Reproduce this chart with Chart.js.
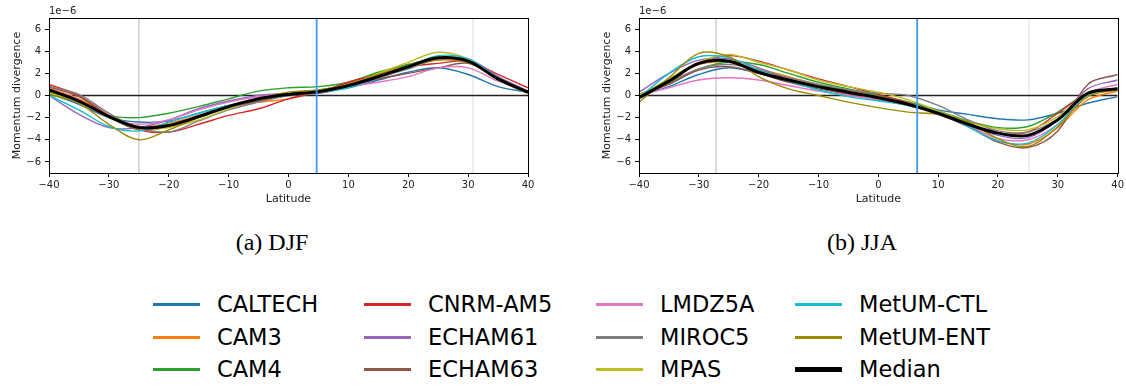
<!DOCTYPE html>
<html>
<head>
<meta charset="utf-8">
<script src="https://cdn.jsdelivr.net/npm/chart.js@4/dist/chart.umd.min.js"></script>
<style>
  body { margin: 0; background: #fff; width: 1126px; height: 388px; position: relative; overflow: hidden; font-family: "DejaVu Sans", sans-serif; }
  canvas { position: absolute; top: 0; }
  .cap { position: absolute; top: 229px; font-family: "Liberation Serif", "Times New Roman", serif; font-size: 24px; color: #000; transform: translateX(-50%); white-space: nowrap; }
  .leg { position: absolute; height: 30px; display: flex; align-items: center; font-size: 22.5px; color: #000; }
  .leg span.ln { display: inline-block; width: 47px; height: 3px; margin-right: 17px; }
</style>
</head>
<body>
<canvas id="djf" width="545" height="210" style="left:0"></canvas>
<canvas id="jja" width="536" height="210" style="left:590px"></canvas>
<div class="cap" style="left:272px">(a) DJF</div>
<div class="cap" style="left:862px">(b) JJA</div>
<div id="legend"></div>
<script>
// latitude grid, values in units of 1e-6
const LAT = [-40, -35, -30, -25, -20, -15, -10, -5, 0, 5, 10, 15, 20, 25, 30, 35, 40];
const MODELS = ['CALTECH', 'CAM3', 'CAM4', 'CNRM-AM5', 'ECHAM61', 'ECHAM63', 'LMDZ5A', 'MIROC5', 'MPAS', 'MetUM-CTL', 'MetUM-ENT', 'Median'];
const COLORS = ['#1f77b4', '#ff7f0e', '#2ca02c', '#d62728', '#9467bd', '#8c564b', '#e377c2', '#7f7f7f', '#bcbd22', '#17becf', '#9c8a00', '#000000'];
const X_TICKS = [-40, -30, -20, -10, 0, 10, 20, 30, 40];
const Y_TICKS = [-6, -4, -2, 0, 2, 4, 6];

// DJF
const djfCaltech = [0.2, -0.8, -2.0, -2.4, -2.3, -1.6, -0.9, -0.5, 0.0, 0.3, 0.7, 1.4, 2.1, 2.5, 1.9, 0.8, 0.3];
const djfCam3    = [0.7, -0.3, -1.8, -2.8, -2.5, -1.8, -1.0, -0.6, -0.3, 0.4, 1.1, 2.0, 2.8, 3.4, 3.2, 1.6, 0.3];
const djfCam4    = [0.3, -0.6, -1.8, -2.0, -1.6, -1.0, -0.3, 0.4, 0.7, 0.8, 1.2, 2.1, 2.8, 3.4, 3.1, 1.5, 0.3];
const djfCnrm    = [1.0, 0.0, -1.8, -3.1, -3.3, -2.6, -1.8, -1.2, -0.3, 0.3, 1.2, 1.9, 2.6, 2.9, 3.1, 1.9, 0.7];
const djfEcham61 = [0.0, -1.7, -2.9, -2.9, -2.2, -1.2, -0.5, 0.0, 0.2, 0.2, 0.8, 1.6, 2.5, 3.3, 3.3, 1.7, 0.4];
const djfEcham63 = [0.8, -0.1, -1.9, -3.1, -2.8, -1.9, -1.1, -0.5, 0.1, 0.4, 0.9, 1.5, 2.0, 2.5, 2.9, 1.5, 0.3];
const djfLmdz    = [0.6, -0.4, -2.0, -2.6, -2.2, -1.3, -0.6, -0.1, 0.2, 0.4, 0.8, 1.2, 1.7, 2.5, 2.5, 1.3, 0.3];
const djfMiroc   = [0.8, 0.1, -1.6, -2.9, -3.3, -2.3, -1.3, -0.6, 0.0, 0.2, 0.8, 1.6, 2.4, 3.3, 3.2, 1.6, 0.3];
const djfMpas    = [0.2, -0.5, -2.0, -3.0, -2.9, -2.2, -1.2, -0.3, 0.2, 0.5, 1.0, 2.0, 3.0, 3.9, 3.3, 1.5, 0.2];
const djfCtl     = [0.0, -1.3, -2.8, -3.2, -2.4, -1.6, -0.9, -0.3, 0.1, 0.3, 0.7, 1.7, 2.6, 3.6, 3.3, 1.6, 0.3];
const djfEnt     = [0.1, -0.7, -2.6, -4.0, -3.1, -2.0, -1.0, -0.3, 0.3, 0.5, 1.0, 1.9, 2.6, 3.2, 3.0, 1.4, 0.2];
const djfMedian  = [0.5, -0.5, -1.9, -2.9, -2.7, -1.9, -1.0, -0.3, 0.1, 0.35, 0.9, 1.7, 2.6, 3.4, 3.1, 1.5, 0.3];

// JJA
const jjaCaltech = [0.0, 0.8, 1.9, 2.5, 2.0, 1.3, 0.7, 0.2, -0.2, -0.6, -1.3, -1.7, -2.1, -2.2, -1.6, -0.7, -0.1];
const jjaCam3    = [0.0, 1.4, 2.8, 3.0, 2.4, 1.7, 1.0, 0.5, 0.0, -0.6, -1.6, -2.8, -4.1, -4.4, -2.9, -0.4, 0.4];
const jjaCam4    = [0.1, 1.1, 2.4, 3.0, 2.8, 2.0, 1.2, 0.6, 0.0, -0.6, -1.4, -2.3, -2.9, -2.8, -1.5, 0.2, 0.5];
const jjaCnrm    = [0.0, 1.2, 2.9, 3.6, 3.1, 2.3, 1.5, 0.8, 0.1, -0.7, -1.7, -2.6, -3.4, -3.3, -1.6, 0.2, 0.6];
const jjaEcham61 = [0.3, 2.0, 3.2, 3.3, 2.5, 1.5, 0.8, 0.3, -0.2, -0.8, -1.6, -2.6, -3.6, -3.8, -2.2, 0.6, 1.4];
const jjaEcham63 = [0.0, 1.0, 2.3, 2.6, 2.0, 1.2, 0.6, 0.1, -0.4, -0.9, -1.7, -2.8, -4.2, -4.7, -3.2, 1.0, 1.9];
const jjaLmdz    = [0.0, 0.7, 1.4, 1.6, 1.4, 0.9, 0.4, 0.0, -0.4, -0.9, -1.7, -2.7, -3.9, -4.0, -2.6, 0.2, 1.0];
const jjaMiroc   = [0.0, 1.2, 2.4, 2.8, 2.3, 1.6, 1.0, 0.5, 0.2, 0.0, -0.9, -2.2, -3.2, -3.3, -2.1, 0.1, 0.6];
const jjaMpas    = [0.0, 1.5, 3.0, 3.7, 3.0, 2.3, 1.4, 0.8, 0.3, -0.4, -1.4, -2.4, -3.0, -3.1, -1.9, 0.2, 0.5];
const jjaCtl     = [-0.2, 2.0, 3.5, 3.4, 2.3, 1.3, 0.5, -0.1, -0.5, -0.9, -1.6, -2.8, -4.1, -4.3, -2.6, 0.0, 0.7];
const jjaEnt     = [-0.6, 1.6, 3.8, 3.5, 1.7, 0.6, 0.0, -0.6, -1.1, -1.5, -1.7, -2.4, -3.9, -4.6, -2.8, -0.1, 0.5];
const jjaMedian  = [-0.2, 1.3, 2.9, 3.1, 2.1, 1.4, 0.8, 0.3, -0.2, -0.8, -1.6, -2.6, -3.4, -3.6, -2.2, 0.2, 0.6];

const DJF = [djfCaltech, djfCam3, djfCam4, djfCnrm, djfEcham61, djfEcham63, djfLmdz, djfMiroc, djfMpas, djfCtl, djfEnt, djfMedian];
const JJA = [jjaCaltech, jjaCam3, jjaCam4, jjaCnrm, jjaEcham61, jjaEcham63, jjaLmdz, jjaMiroc, jjaMpas, jjaCtl, jjaEnt, jjaMedian];

// reference lines: [gray line, blue line, light gray line]
const DJF_VLINES = [-25, 4.7, 30.8];
const JJA_VLINES = [-27.1, 6.5, 25.2];

const frame = {
  id: 'frame',
  afterDraw(chart) {
    const { ctx, chartArea: a } = chart;
    ctx.save();
    ctx.strokeStyle = '#000';
    ctx.lineWidth = 1;
    ctx.strokeRect(Math.round(a.left) + 0.5, Math.round(a.top) + 0.5, Math.round(a.right - a.left), Math.round(a.bottom - a.top));
    ctx.fillStyle = '#222';
    ctx.font = '10px "DejaVu Sans"';
    ctx.textBaseline = 'alphabetic';
    ctx.fillText('1e\u22126', a.left, a.top - 4);
    ctx.restore();
  }
};

function vline(x, color, width, order) {
  return { data: [{ x: x, y: -7 }, { x: x, y: 7 }], borderColor: color, borderWidth: width, pointRadius: 0, order: order };
}

function makeChart(id, series, vl, rightPad) {
  const datasets = series.map((vals, i) => ({
    label: MODELS[i],
    data: LAT.map((x, j) => ({ x: x, y: vals[j] })),
    borderColor: COLORS[i],
    borderWidth: i === 11 ? 3 : 1.4,
    pointRadius: 0,
    tension: 0.35,
    order: i === 11 ? 1 : 30 - i
  }));
  datasets.push(vline(vl[0], '#d3d3d3', 1.6, 100));
  datasets.push(vline(vl[2], '#eaeaea', 1.6, 100));
  datasets.push({ data: [{ x: -40, y: 0 }, { x: 40, y: 0 }], borderColor: '#222', borderWidth: 1.4, pointRadius: 0, order: 90 });
  datasets.push(vline(vl[1], '#3d9cf5', 1.8, 0));

  new Chart(document.getElementById(id), {
    type: 'line',
    data: { datasets: datasets },
    options: {
      responsive: false,
      animation: false,
      devicePixelRatio: 1,
      layout: { padding: { top: 18, right: rightPad, left: 0, bottom: 0 } },
      plugins: { legend: { display: false }, tooltip: { enabled: false } },
      scales: {
        x: {
          type: 'linear', min: -40, max: 40,
          afterFit: s => { s.height = 37; },
          afterBuildTicks: s => { s.ticks = X_TICKS.map(v => ({ value: v })); },
          grid: { drawOnChartArea: false, drawTicks: true, tickLength: 4, color: '#000' },
          border: { display: false },
          ticks: { color: '#222', font: { family: 'DejaVu Sans', size: 10 }, padding: 2, maxRotation: 0,
                   callback: v => String(v).replace('-', '\u2212') },
          title: { display: true, text: 'Latitude', color: '#222', font: { family: 'DejaVu Sans', size: 11 }, padding: { top: 0, bottom: 4 } }
        },
        y: {
          min: -7, max: 7,
          afterFit: s => { s.width = 49; },
          afterBuildTicks: s => { s.ticks = Y_TICKS.map(v => ({ value: v })); },
          grid: { drawOnChartArea: false, drawTicks: true, tickLength: 4, color: '#000' },
          border: { display: false },
          ticks: { color: '#222', font: { family: 'DejaVu Sans', size: 10 }, padding: 4,
                   callback: v => String(v).replace('-', '\u2212') },
          title: { display: true, text: 'Momentum divergence', color: '#222', font: { family: 'DejaVu Sans', size: 11 }, padding: { top: 11, bottom: 0 } }
        }
      }
    },
    plugins: [frame]
  });
}

makeChart('djf', DJF, DJF_VLINES, 17);
makeChart('jja', JJA, JJA_VLINES, 8);

// legend, 4 columns x 3 rows, filled column by column
const LEG_X = [153, 364, 596, 795];
const LEG_Y = [304, 337, 369];
const legend = document.getElementById('legend');
MODELS.forEach((name, i) => {
  const col = Math.floor(i / 3), row = i % 3;
  const d = document.createElement('div');
  d.className = 'leg';
  d.style.left = LEG_X[col] + 'px';
  d.style.top = (LEG_Y[row] - 15) + 'px';
  const h = i === 11 ? 5 : 3;
  d.innerHTML = '<span class="ln" style="background:' + COLORS[i] + ';height:' + h + 'px"></span>' + name;
  legend.appendChild(d);
});
</script>
</body>
</html>
